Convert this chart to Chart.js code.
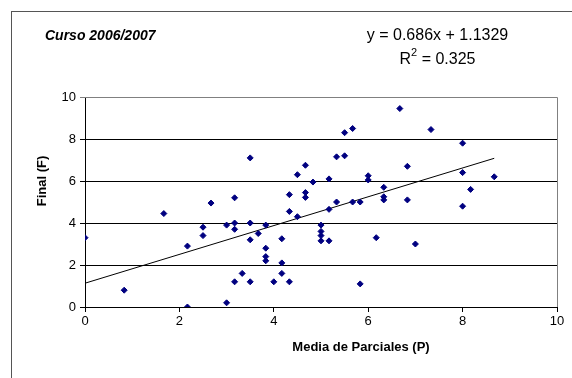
<!DOCTYPE html>
<html>
<head>
<meta charset="utf-8">
<script src="https://cdn.jsdelivr.net/npm/chart.js@4/dist/chart.umd.min.js"></script>
<style>
html, body { margin: 0; padding: 0; background: #fff; }
#wrap { width: 572px; height: 378px; }
</style>
</head>
<body>
<div id="wrap"><canvas id="chart" width="572" height="378"></canvas></div>
<script>
// Media de Parciales (P) and Final (F), one entry per student
const parcial = [
    0, 0.83, 1.67, 2.17, 2.17, 2.5, 2.5, 2.67, 3.0, 3.0,
    3.17, 3.17, 3.17, 3.17, 3.33, 3.5, 3.5, 3.5, 3.5, 3.67,
    3.83, 3.83, 3.83, 3.83, 4.0, 4.17, 4.17, 4.17, 4.33, 4.33,
    4.33, 4.5, 4.5, 4.67, 4.67, 4.67, 4.83, 5.0, 5.0, 5.0,
    5.0, 5.17, 5.17, 5.17, 5.33, 5.33, 5.5, 5.5, 5.67, 5.67,
    5.83, 5.83, 6.0, 6.0, 6.17, 6.33, 6.33, 6.33, 6.67, 6.83,
    6.83, 7.0, 7.33, 8.0, 8.0, 8.0, 8.17, 8.67
];
const final = [
    3.3, 0.8, 4.45, 2.9, 0, 3.8, 3.4, 4.95, 3.9, 0.2,
    4.0, 3.7, 1.2, 5.2, 1.6, 4.0, 3.2, 1.2, 7.1, 3.5,
    3.9, 2.8, 2.4, 2.2, 1.2, 3.25, 2.1, 1.6, 4.55, 1.2,
    5.35, 4.3, 6.3, 6.75, 5.45, 5.22, 5.95, 3.9, 3.6, 3.4,
    3.15, 3.15, 4.65, 6.1, 5.0, 7.15, 7.2, 8.3, 8.5, 5.0,
    5.0, 1.1, 6.25, 6.05, 3.3, 5.7, 5.25, 5.1, 9.45, 6.7,
    5.1, 3.0, 8.45, 7.8, 6.4, 4.8, 5.6, 6.2
];
const trendSlope = 0.686;
const trendIntercept = 1.1329;
const rSquared = 0.325;
const axisTicks = [0, 2, 4, 6, 8, 10];

const points = parcial.map((p, i) => ({ x: p, y: final[i] }));
const xMax = Math.max(...parcial);
const trend = [0, xMax].map(x => ({ x, y: trendSlope * x + trendIntercept }));

const FONT = "'Liberation Sans', Arial, sans-serif";

const decor = {
    id: "decor",
    beforeDraw(chart) {
        const ctx = chart.ctx;
        ctx.save();
        ctx.fillStyle = "#fff";
        ctx.fillRect(0, 0, chart.width, chart.height);
        ctx.restore();
    },
    afterDraw(chart) {
        const ctx = chart.ctx;
        const a = chart.chartArea;
        ctx.save();

        // outer frame
        ctx.strokeStyle = "#555";
        ctx.lineWidth = 1;
        ctx.strokeRect(11.5, 11.5, 600, 400);

        // plot area top / right edge
        ctx.strokeStyle = "#808080";
        ctx.beginPath();
        ctx.moveTo(a.left, Math.round(a.top) + 0.5);
        ctx.lineTo(Math.round(a.right) + 0.5, Math.round(a.top) + 0.5);
        ctx.lineTo(Math.round(a.right) + 0.5, a.bottom);
        ctx.stroke();

        ctx.fillStyle = "#000";
        ctx.textBaseline = "alphabetic";

        ctx.font = "italic bold 14px " + FONT;
        ctx.textAlign = "left";
        ctx.fillText("Curso 2006/2007", 45, 40);

        ctx.font = "16px " + FONT;
        ctx.textAlign = "center";
        ctx.fillText("y = " + trendSlope + "x + " + trendIntercept, 437.5, 40);

        // R² line, superscript drawn by hand
        const rest = " = " + rSquared;
        const wR = ctx.measureText("R").width;
        const wRest = ctx.measureText(rest).width;
        ctx.font = "11px " + FONT;
        const w2 = ctx.measureText("2").width;
        const total = wR + w2 + wRest;
        let x = 437.5 - total / 2;
        ctx.textAlign = "left";
        ctx.font = "16px " + FONT;
        ctx.fillText("R", x, 64);
        x += wR;
        ctx.font = "11px " + FONT;
        ctx.fillText("2", x, 56);
        x += w2;
        ctx.font = "16px " + FONT;
        ctx.fillText(rest, x, 64);

        // axis titles
        ctx.font = "bold 13px " + FONT;
        ctx.textAlign = "center";
        ctx.textBaseline = "middle";
        ctx.fillText("Media de Parciales (P)", 361, 347);

        ctx.translate(42, 181);
        ctx.rotate(-Math.PI / 2);
        ctx.fillText("Final (F)", 0, 0);

        ctx.restore();
    }
};

new Chart(document.getElementById("chart"), {
    type: "scatter",
    data: {
        datasets: [
            {
                data: points,
                pointStyle: "rectRot",
                pointRadius: 3,
                pointBorderWidth: 1,
                backgroundColor: "#000080",
                borderColor: "#000080"
            },
            {
                data: trend,
                showLine: true,
                pointRadius: 0,
                borderColor: "#000",
                borderWidth: 1
            }
        ]
    },
    options: {
        responsive: false,
        animation: false,
        devicePixelRatio: 1,
        layout: { padding: { left: 0, top: 97, right: 15, bottom: 0 } },
        plugins: { legend: { display: false }, tooltip: { enabled: false } },
        scales: {
            x: {
                type: "linear",
                min: 0,
                max: 10,
                afterFit: s => { s.height = 71; },
                afterBuildTicks: s => { s.ticks = axisTicks.map(v => ({ value: v })); },
                ticks: {
                    color: "#000",
                    padding: 2,
                    font: { family: FONT, size: 13 }
                },
                grid: { drawOnChartArea: false, tickLength: 5, color: "#000" },
                border: { color: "#000" }
            },
            y: {
                min: 0,
                max: 10,
                afterFit: s => { s.width = 85; },
                afterBuildTicks: s => { s.ticks = axisTicks.map(v => ({ value: v })); },
                ticks: {
                    color: "#000",
                    padding: 4,
                    font: { family: FONT, size: 13 }
                },
                grid: {
                    tickLength: 5,
                    color: c => (c.tick && c.tick.value === 10 ? "#808080" : "#000")
                },
                border: { color: "#000" }
            }
        }
    },
    plugins: [decor]
});
</script>
</body>
</html>
